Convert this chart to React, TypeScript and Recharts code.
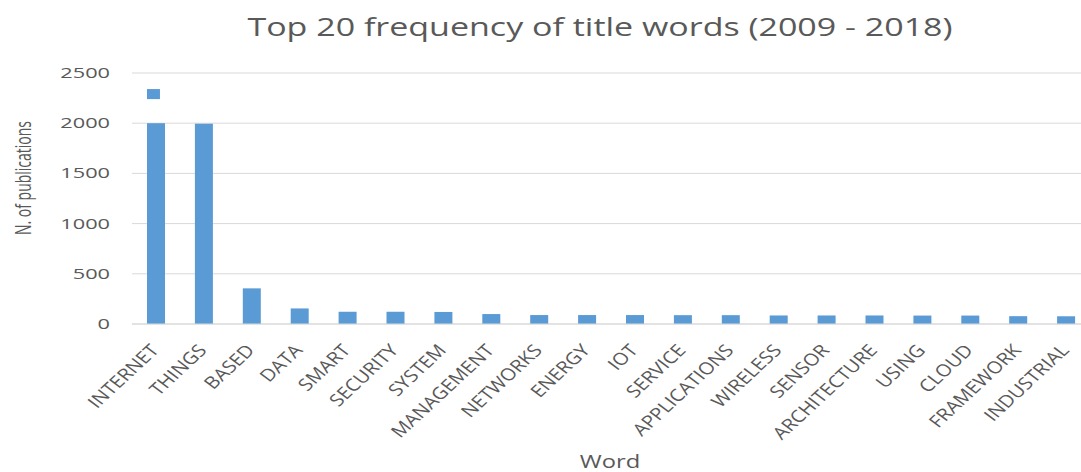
import React from "react";
import { BarChart, Bar, XAxis, YAxis, CartesianGrid } from "recharts";

// Top 20 words in publication titles, 2009 - 2018
const WORDS = [
  "INTERNET", "THINGS", "BASED", "DATA", "SMART", "SECURITY", "SYSTEM",
  "MANAGEMENT", "NETWORKS", "ENERGY", "IOT", "SERVICE", "APPLICATIONS",
  "WIRELESS", "SENSOR", "ARCHITECTURE", "USING", "CLOUD", "FRAMEWORK", "INDUSTRIAL",
];
const COUNTS = [
  2340, 1995, 355, 155, 122, 122, 120, 99, 89, 89, 89, 88, 88, 85, 85, 85, 84, 84, 78, 77,
];
const Y_TICKS = [0, 500, 1000, 1500, 2000, 2500];

// the first bar is drawn with a break on the value axis
const BREAK_FROM = 2000;
const BREAK_TO = 2240;

const TEXT = "#595959";
const GRID = "#D9D9D9";
const BLUE = "#5B9BD5";
const FONT = "'Open Sans', sans-serif";

const data = WORDS.map((word, i) => ({ word, count: COUNTS[i] }));

const BrokenBar = (props: any) => {
  const { x, y, width, height, payload } = props;
  const v = payload.count;
  if (v <= BREAK_FROM || !height) {
    return <rect x={x} y={y} width={width} height={height} fill={BLUE} />;
  }
  const ppu = height / v;
  const base = y + height;
  const lowTop = base - BREAK_FROM * ppu;
  const highBottom = base - BREAK_TO * ppu;
  return (
    <g>
      <rect x={x} y={lowTop} width={width} height={base - lowTop} fill={BLUE} />
      <rect x={x} y={y} width={width * 0.72} height={highBottom - y} fill={BLUE} />
    </g>
  );
};

// labels look stretched sideways in the original, so scale after rotating
const XTick = ({ x, y, payload }: any) => (
  <g transform={`translate(${x + 4},${y + 27}) scale(1.2,1) rotate(-48)`}>
    <text textAnchor="end" fontSize={17} fill={TEXT} fontFamily={FONT}>
      {payload.value}
    </text>
  </g>
);

const YTick = ({ x, y, payload }: any) => (
  <g transform={`translate(${x},${y + 5}) scale(1.45,1)`}>
    <text textAnchor="end" fontSize={15} fill={TEXT} fontFamily={FONT}>
      {payload.value}
    </text>
  </g>
);

export default function App() {
  return (
    <div
      style={{
        position: "absolute",
        left: 0,
        top: 0,
        width: 1081,
        height: 472,
        overflow: "hidden",
        background: "#fff",
      }}
    >
      <BarChart
        width={1100}
        height={472}
        data={data}
        margin={{ top: 73, right: 10, bottom: 28, left: 72 }}
        barCategoryGap={0}
      >
        <CartesianGrid vertical={false} stroke={GRID} />
        <XAxis
          dataKey="word"
          interval={0}
          height={120}
          tickLine={false}
          tickSize={0}
          tickMargin={0}
          axisLine={{ stroke: GRID }}
          tick={<XTick />}
        />
        <YAxis
          width={60}
          domain={[0, 2500]}
          ticks={Y_TICKS}
          axisLine={false}
          tickLine={false}
          tickSize={0}
          tickMargin={22}
          tick={<YTick />}
        />
        <Bar dataKey="count" barSize={18} shape={<BrokenBar />} isAnimationActive={false} />
      </BarChart>

      <svg
        width={1081}
        height={472}
        style={{ position: "absolute", left: 0, top: 0, pointerEvents: "none" }}
      >
        <g transform="translate(600,36) scale(1.36,1)">
          <text textAnchor="middle" fontSize={25} fill={TEXT} fontFamily={FONT}>
            Top 20 frequency of title words (2009 - 2018)
          </text>
        </g>
        <g transform="translate(31,178) rotate(-90) scale(1,1.5)">
          <text textAnchor="middle" fontSize={14} fill={TEXT} fontFamily={FONT}>
            N. of publications
          </text>
        </g>
        <g transform="translate(610,468) scale(1.32,1)">
          <text textAnchor="middle" fontSize={18} fill={TEXT} fontFamily={FONT}>
            Word
          </text>
        </g>
      </svg>
    </div>
  );
}
